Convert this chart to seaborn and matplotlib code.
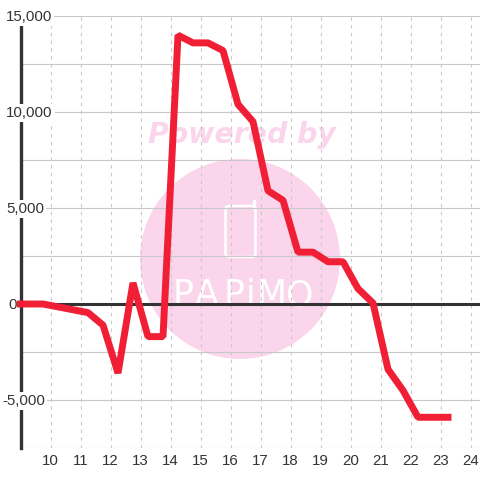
import matplotlib
matplotlib.use('Agg')
import matplotlib.pyplot as plt
from matplotlib.patches import Circle, FancyBboxPatch
import pandas as pd
import seaborn as sns

# values, one point every half hour
hours = [9.0, 9.75, 10.25, 10.75, 11.25, 11.75, 12.25, 12.75, 13.25, 13.75,
         14.25, 14.75, 15.25, 15.75, 16.25, 16.75, 17.25, 17.75, 18.25, 18.75,
         19.25, 19.75, 20.25, 20.75, 21.25, 21.75, 22.25, 22.75, 23.25]
balance = [0, 0, -150, -300, -450, -1100, -3600, 1100, -1700, -1700,
           14000, 13600, 13600, 13200, 10400, 9500, 5900, 5400, 2700, 2700,
           2200, 2200, 800, 50, -3400, -4500, -5900, -5900, -5900]
x_ticks = list(range(10, 25))
y_major = [-5000, 0, 5000, 10000, 15000]
y_minor = [-7500, -2500, 2500, 7500, 12500]
y_labels = ['-5,000', '0', '5,000', '10,000', '15,000']
logo_letters = list('PAPiMO')

LINE_RED = '#f01f36'
PINK = '#fbd5ec'
GRID = '#c8c8c8'
DARK = '#333333'

sns.set_theme(style='white', font='Liberation Sans')

fig = plt.figure(figsize=(4.8, 4.8), dpi=100)
ax = fig.add_axes([20.5 / 480, 1 - 448 / 480, (480 - 20.5) / 480, (448 - 16) / 480])
ax.set_xlim(9, 9 + (480 - 20.5) / 30)
ax.set_ylim(-7500, 15000)
ax.patch.set_visible(False)


def px(x, y):
    return x / 480, 1 - y / 480


# watermark sits behind everything
fig.add_artist(Circle(px(240, 259), 100 / 480, color=PINK, lw=0,
                      transform=fig.transFigure, zorder=-5))
fig.text(*px(242, 135), 'Powered by', color=PINK, fontsize=20.4, fontweight='bold',
         style='italic', family='DejaVu Sans', ha='center', va='center', zorder=-4)
fig.add_artist(FancyBboxPatch(px(225.5, 257), 30 / 480, 51 / 480,
                              boxstyle='round,pad=0,rounding_size=0.008',
                              fc='none', ec='white', lw=1.8,
                              transform=fig.transFigure, zorder=-4))
fig.add_artist(plt.Line2D([254.5 / 480] * 2, [px(0, 208)[1], px(0, 201)[1]], color='white',
                          lw=2.4, solid_capstyle='round', transform=fig.transFigure, zorder=-4))
for ch, cx in zip(logo_letters, [183, 207, 234, 251, 272, 300]):
    fig.text(*px(cx, 305), ch, color='white', fontsize=25, family='DejaVu Sans',
             ha='center', va='baseline', zorder=-4)

ax.vlines(x_ticks, -7500, 15000, color=GRID, lw=0.8, linestyles=(0, (3, 4)), zorder=1)
ax.hlines(y_minor + [v for v in y_major if v != 0], 9, ax.get_xlim()[1],
          color=GRID, lw=0.8, zorder=1)
ax.axhline(0, color=DARK, lw=2.2, zorder=2)

for s in ['top', 'right', 'bottom']:
    ax.spines[s].set_visible(False)
ax.spines['left'].set_color(DARK)
ax.spines['left'].set_linewidth(2.4)
ax.spines['left'].set_zorder(2)

df = pd.DataFrame({'hour': hours, 'balance': balance})
sns.lineplot(data=df, x='hour', y='balance', ax=ax, color=LINE_RED, lw=5,
             solid_capstyle='projecting', solid_joinstyle='bevel', clip_on=False,
             zorder=6, errorbar=None, sort=False)

ax.set_xlabel('')
ax.set_ylabel('')
ax.set_xticks(x_ticks)
ax.tick_params(axis='both', length=0)
ax.set_xticklabels([str(t) for t in x_ticks], fontsize=10.8, color=DARK)
ax.tick_params(axis='x', pad=4.5)
ax.set_yticks([])

# y labels start at a fixed left edge and mask the axis with white
for v, lab in zip(y_major, y_labels):
    left = 2 if lab.startswith('-') else (8 if lab == '0' else 6)
    ax.annotate(lab, xy=(left / 480, v), xycoords=(fig.transFigure, 'data'),
                xytext=(0, -0.7), textcoords='offset points',
                fontsize=10.8, color=DARK, ha='left', va='center', zorder=4,
                bbox=dict(fc='white', ec='none', pad=1.5), annotation_clip=False)

fig.savefig('out.png', dpi=100)
